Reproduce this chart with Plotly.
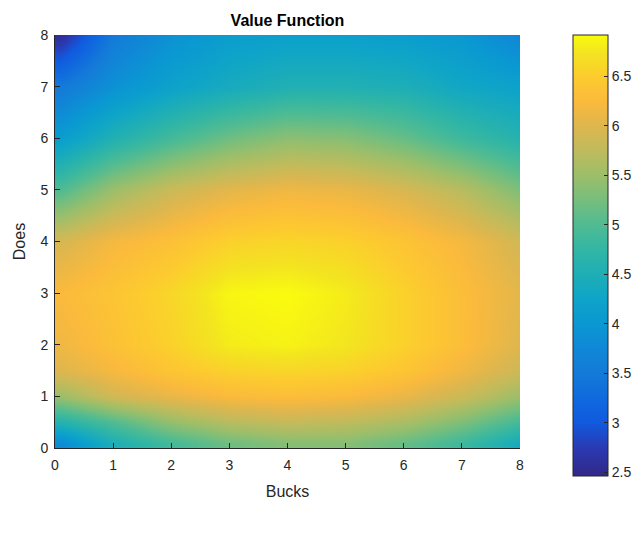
import plotly.graph_objects as go

# sample points (Bucks on x, Does on y)
bucks = [0.1, 1, 2, 3, 4, 5, 6, 7, 8]
does = [0.1, 0.5, 1, 1.5, 2, 3, 4, 5, 6, 7, 8]

# value function; rows follow `does`, columns follow `bucks`
value = [
    [3.8, 4.5, 4.9, 5.2, 5.35, 5.35, 5.15, 4.85, 4.4],   # does 0.1
    [4.6, 5.0, 5.45, 5.7, 5.8, 5.75, 5.6, 5.3, 4.9],     # does 0.5
    [5.5, 5.9, 6.1, 6.25, 6.3, 6.25, 6.1, 5.85, 5.5],    # does 1
    [6.0, 6.2, 6.4, 6.55, 6.6, 6.55, 6.4, 6.15, 5.85],   # does 1.5
    [6.15, 6.35, 6.55, 6.8, 6.85, 6.75, 6.55, 6.3, 6.0],  # does 2
    [6.25, 6.4, 6.6, 6.88, 6.92, 6.8, 6.55, 6.3, 6.05],   # does 3
    [5.95, 6.2, 6.35, 6.55, 6.6, 6.55, 6.4, 6.2, 5.9],    # does 4
    [5.0, 5.5, 5.85, 6.05, 6.15, 6.1, 5.95, 5.7, 5.3],    # does 5
    [4.1, 4.55, 4.9, 5.2, 5.4, 5.35, 5.15, 4.85, 4.6],    # does 6
    [3.5, 3.9, 4.2, 4.4, 4.55, 4.55, 4.5, 4.3, 4.2],      # does 7
    [2.55, 3.5, 3.9, 4.1, 4.15, 4.15, 4.1, 4.0, 3.7],     # does 8
]

cb_ticks = [2.5, 3, 3.5, 4, 4.5, 5, 5.5, 6, 6.5]
x_ticks = [0, 1, 2, 3, 4, 5, 6, 7, 8]
y_ticks = [0, 1, 2, 3, 4, 5, 6, 7, 8]

parula = [
    [0.000, "rgb(50,40,135)"],
    [0.065, "rgb(42,58,180)"],
    [0.121, "rgb(16,90,222)"],
    [0.177, "rgb(16,106,222)"],
    [0.233, "rgb(20,122,216)"],
    [0.290, "rgb(16,136,214)"],
    [0.345, "rgb(10,152,210)"],
    [0.400, "rgb(14,164,200)"],
    [0.457, "rgb(30,174,182)"],
    [0.513, "rgb(50,182,164)"],
    [0.570, "rgb(80,187,146)"],
    [0.625, "rgb(118,190,125)"],
    [0.680, "rgb(156,190,106)"],
    [0.740, "rgb(192,187,92)"],
    [0.794, "rgb(222,182,78)"],
    [0.850, "rgb(251,186,60)"],
    [0.906, "rgb(252,204,46)"],
    [0.960, "rgb(243,228,32)"],
    [1.000, "rgb(249,251,14)"],
]

axis_color = "#262626"
font_family = "Liberation Sans, Arial, sans-serif"

fig = go.Figure(
    go.Heatmap(
        x=bucks,
        y=does,
        z=value,
        zsmooth="best",
        colorscale=parula,
        zmin=2.46,
        zmax=6.92,
        colorbar=dict(
            x=(573 - 55) / 465,
            xanchor="left",
            y=1,
            yanchor="top",
            len=441,
            lenmode="pixels",
            thickness=35,
            thicknessmode="pixels",
            outlinewidth=1,
            outlinecolor=axis_color,
            tickvals=cb_ticks,
            ticktext=[f"{t:g}" for t in cb_ticks],
            ticks="inside",
            ticklen=4,
            tickcolor=axis_color,
            tickfont=dict(size=14, color=axis_color, family=font_family),
            xpad=0,
            ypad=0,
        ),
    )
)

fig.update_layout(
    width=638,
    height=533,
    margin=dict(l=55, r=118, t=35, b=85, autoexpand=False),
    paper_bgcolor="white",
    plot_bgcolor="white",
    font=dict(family=font_family, color=axis_color),
    title=dict(
        text="<b>Value Function</b>",
        x=(55 + 232.5) / 638,
        xanchor="center",
        y=1 - 20 / 533,
        yanchor="middle",
        font=dict(size=16, color="#000000", family=font_family),
    ),
    xaxis=dict(
        range=[0, 8],
        tickvals=x_ticks,
        ticks="inside",
        ticklen=5,
        tickcolor=axis_color,
        showline=True,
        linecolor=axis_color,
        linewidth=1,
        showgrid=False,
        zeroline=False,
        ticklabelstandoff=4,
        tickfont=dict(size=14, color=axis_color),
        title=dict(text="Bucks", font=dict(size=16, color=axis_color), standoff=14),
    ),
    yaxis=dict(
        range=[0, 8],
        tickvals=y_ticks,
        ticks="inside",
        ticklen=5,
        tickcolor=axis_color,
        showline=True,
        linecolor=axis_color,
        linewidth=1,
        showgrid=False,
        zeroline=False,
        ticklabelstandoff=3,
        tickfont=dict(size=14, color=axis_color),
        title=dict(text="Does", font=dict(size=16, color=axis_color), standoff=10),
    ),
)

fig.write_html("out.html")
